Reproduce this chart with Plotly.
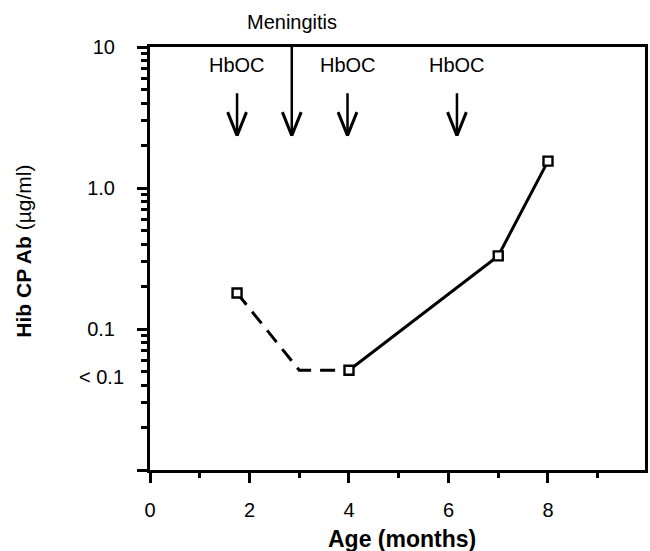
import math
import plotly.graph_objects as go

# ---- data ----
dashed_age = [1.75, 3.0, 4.0]
dashed_ab = [0.18, 0.051, 0.051]
solid_age = [4.0, 7.0, 8.0]
solid_ab = [0.051, 0.33, 1.55]
marker_age = [1.75, 4.0, 7.0, 8.0]
marker_ab = [0.18, 0.051, 0.33, 1.55]

hboc_age = [1.75, 3.97, 6.17]
hboc_label = "HbOC"
meningitis_age = [2.85]
meningitis_label = "Meningitis"
arrow_tip_ab = 2.35

x_tick_vals = [0, 2, 4, 6, 8]
x_tick_text = ["0", "2", "4", "6", "8"]
y_tick_vals = [10, 1, 0.1, 0.01]
y_tick_text = ["10", "1.0", "0.1", ""]
below_label_ab = 0.046
below_label = "< 0.1"

FONT = "Liberation Sans, Arial, sans-serif"

fig = go.Figure()
fig.add_trace(go.Scatter(x=dashed_age, y=dashed_ab, mode="lines",
                         line=dict(color="black", width=3, dash="15px,9px"),
                         showlegend=False, hoverinfo="skip"))
fig.add_trace(go.Scatter(x=solid_age, y=solid_ab, mode="lines",
                         line=dict(color="black", width=3),
                         showlegend=False, hoverinfo="skip"))
fig.add_trace(go.Scatter(x=marker_age, y=marker_ab, mode="markers",
                         marker=dict(symbol="square", size=9, color="white",
                                     line=dict(color="black", width=2.4)),
                         showlegend=False, hoverinfo="skip"))

annotations = []
tip_log = math.log10(arrow_tip_ab)


def add_arrow(age, tail_px):
    # shaft
    annotations.append(dict(x=age, y=tip_log, xref="x", yref="y", text="",
                            showarrow=True, arrowhead=0, arrowwidth=2.5,
                            arrowcolor="black", ax=0, ay=-tail_px, standoff=0))
    # V head arms
    for dx in (-10, 10):
        annotations.append(dict(x=age, y=tip_log, xref="x", yref="y", text="",
                                showarrow=True, arrowhead=0, arrowwidth=3,
                                arrowcolor="black", ax=dx, ay=-25, standoff=0))


for a in hboc_age:
    add_arrow(a, 44)
    annotations.append(dict(x=a, y=0.957, xref="x", yref="paper", text=hboc_label,
                            showarrow=False, xanchor="center", yanchor="middle",
                            font=dict(family=FONT, size=20, color="black")))
for a in meningitis_age:
    add_arrow(a, 93)
    annotations.append(dict(x=a, y=1.058, xref="paper" if False else "x", yref="paper",
                            text=meningitis_label,
                            showarrow=False, xanchor="center", yanchor="middle",
                            font=dict(family=FONT, size=20, color="black")))

annotations.append(dict(x=-0.048, y=math.log10(below_label_ab), xref="paper", yref="y",
                        text=below_label, showarrow=False, xanchor="right",
                        yanchor="middle", font=dict(family=FONT, size=20, color="black")))
annotations.append(dict(x=0.51, y=-0.163, xref="paper", yref="paper",
                        text="<b>Age (months)</b>", showarrow=False,
                        xanchor="center", yanchor="middle",
                        font=dict(family=FONT, size=23, color="black")))
annotations.append(dict(x=-0.255, y=0.518, xref="paper", yref="paper",
                        text="<b>Hib CP Ab</b> (µg/ml)", showarrow=False, textangle=-90,
                        xanchor="center", yanchor="middle",
                        font=dict(family=FONT, size=21, color="black")))

fig.update_layout(
    width=650, height=551,
    margin=dict(l=150, r=2, t=47, b=81),
    paper_bgcolor="white", plot_bgcolor="white",
    font=dict(family=FONT, size=20, color="black"),
    annotations=annotations,
    xaxis=dict(range=[0, 9.95], tickmode="array", tickvals=x_tick_vals,
               ticktext=x_tick_text, ticks="outside", ticklen=10, tickwidth=3,
               tickcolor="black", showline=True, linewidth=3, linecolor="black",
               mirror=True, showgrid=False, zeroline=False, ticklabelstandoff=10,
               tickfont=dict(size=20),
               minor=dict(dtick=1, ticks="outside", ticklen=5, tickwidth=3,
                          tickcolor="black", showgrid=False)),
    yaxis=dict(type="log", range=[-2, 1], tickmode="array", tickvals=y_tick_vals,
               ticktext=y_tick_text, ticks="outside", ticklen=10, tickwidth=3,
               tickcolor="black", showline=True, linewidth=3, linecolor="black",
               mirror=True, showgrid=False, zeroline=False, ticklabelstandoff=18,
               tickfont=dict(size=20),
               minor=dict(dtick="D1", ticks="outside", ticklen=6, tickwidth=2.5,
                          tickcolor="black", showgrid=False)),
)

fig.write_html("out.html")
